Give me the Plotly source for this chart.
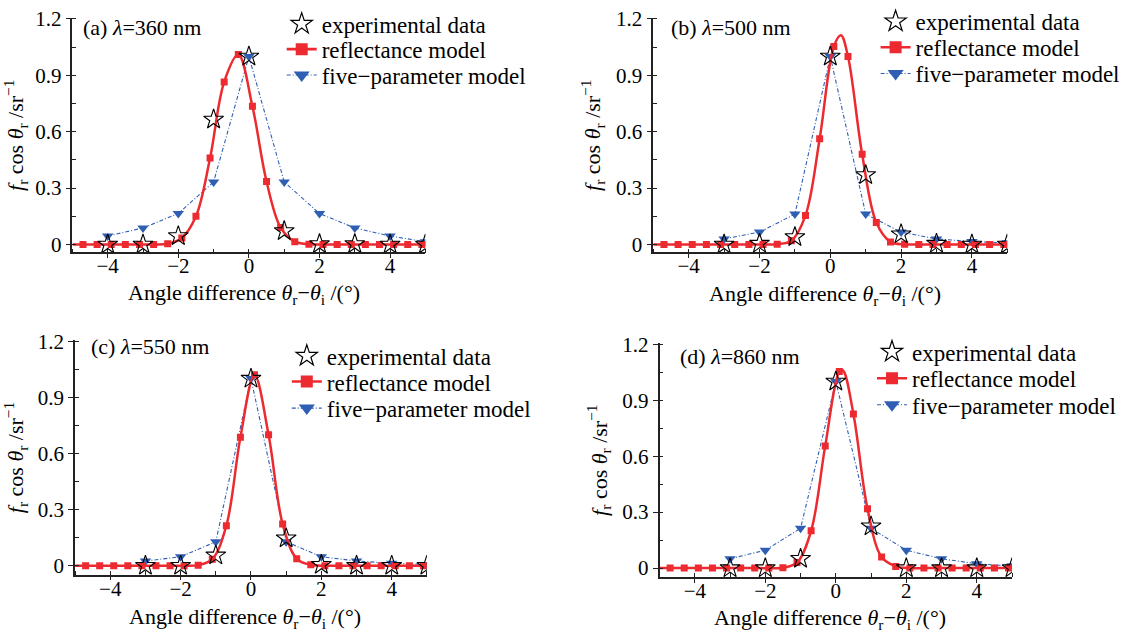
import plotly.graph_objects as go

W, H = 1129, 634

# ---------------- data ----------------
grid_x = [-4.7, -4.3, -3.9, -3.5, -3.1, -2.7, -2.3, -1.9, -1.5, -1.1, -0.7, -0.3,
          0.1, 0.5, 0.9, 1.3, 1.7, 2.1, 2.5, 2.9, 3.3, 3.7, 4.1, 4.5, 4.9]

refl_a = [0, 0, 0, 0, 0, 0, 0.004, 0.035, 0.15, 0.46, 0.865, 1.01,
          0.735, 0.335, 0.09, 0.015, 0.002, 0, 0, 0, 0, 0, 0, 0, 0]
refl_b = [0, 0, 0, 0, 0, 0, 0, 0, 0.002, 0.02, 0.155, 0.563,
          1.053, 1.0, 0.48, 0.117, 0.014, 0.001, 0, 0, 0, 0, 0, 0, 0]
refl_c = [0, 0, 0, 0, 0, 0, 0, 0, 0.003, 0.035, 0.214, 0.687,
          1.02, 0.70, 0.223, 0.037, 0.005, 0, 0, 0, 0, 0, 0, 0, 0]
refl_d = [0, 0, 0, 0, 0, 0, 0, 0, 0.002, 0.03, 0.2, 0.655,
          1.053, 0.826, 0.318, 0.059, 0.009, 0, 0, 0, 0, 0, 0, 0, 0]

# extra points on the drawn curve (ends of the axis and the peak)
extra_x_a = [-5.0, 5.0]
extra_y_a = [0.0, 0.0]
extra_x_b = [-5.0, 0.3, 5.0]
extra_y_b = [0.0, 1.113, 0.0]
extra_x_c = [-5.0, 5.0]
extra_y_c = [0.0, 0.0]
extra_x_d = [-5.0, 0.2, 5.0]
extra_y_d = [0.0, 1.06, 0.0]

exp_x_a = [-4, -3, -2, -1, 0, 1, 2, 3, 4, 5]
exp_y_a = [0.0, 0.0, 0.045, 0.665, 1.0, 0.072, 0.003, 0.003, 0.0, 0.0]
exp_x_bcd = [-3, -2, -1, 0, 1, 2, 3, 4, 5]
exp_y_b = [0.0, 0.005, 0.04, 1.0, 0.37, 0.055, 0.005, 0.0, 0.0]
exp_y_c = [0.0, 0.0, 0.055, 1.0, 0.147, 0.005, 0.0, 0.0, 0.0]
exp_y_d = [0.0, 0.0, 0.05, 1.0, 0.224, 0.0, 0.0, 0.0, 0.0]

five_y_a = [0.045, 0.088, 0.165, 0.333, 1.0, 0.333, 0.165, 0.088, 0.045, 0.015]
five_y_b = [0.03, 0.066, 0.162, 1.0, 0.162, 0.066, 0.03, 0.016, 0.009]
five_y_c = [0.025, 0.048, 0.128, 1.0, 0.128, 0.048, 0.025, 0.013, 0.007]
five_y_d = [0.05, 0.096, 0.213, 1.0, 0.213, 0.096, 0.05, 0.023, 0.012]

panel_labels = ["(a) <i>λ</i>=360 nm", "(b) <i>λ</i>=500 nm",
                "(c) <i>λ</i>=550 nm", "(d) <i>λ</i>=860 nm"]
legend_names = ["experimental data", "reflectance model", "five\u2212parameter model"]
x_title = "Angle difference <i>θ</i><sub>r</sub>\u2212<i>θ</i><sub>i</sub> /(°)"
y_title = "<i>f</i><sub>r</sub> cos <i>θ</i><sub>r</sub> /sr<sup>\u22121</sup>"
x_ticks = [-4, -2, 0, 2, 4]
y_ticks = [0, 0.3, 0.6, 0.9, 1.2]
y_ticktext = ["0", "0.3", "0.6", "0.9", "1.2"]

# ---------------- styling / geometry ----------------
FONT = "Liberation Serif"
RED = "#ec2a2f"
BLUE = "#2f5fb3"
AX = "#222222"

panels = [
    dict(refl=refl_a, ex=extra_x_a, ey=extra_y_a, expx=exp_x_a, expy=exp_y_a, fy=five_y_a,
         xd=(72.4, 425.4), yd=(250.0, 14.05), yr=(-0.042, 1.205),
         lab=(81.0, 23.5), legx=321.7, legy=(20.0, 45.5, 71.5), xt=(244.0, 292.0)),
    dict(refl=refl_b, ex=extra_x_b, ey=extra_y_b, expx=exp_x_bcd, expy=exp_y_b, fy=five_y_b,
         xd=(653.3, 1007.3), yd=(250.0, 14.05), yr=(-0.042, 1.205),
         lab=(669.0, 23.5), legx=915.6, legy=(17.5, 43.5, 70.0), xt=(825.0, 292.5)),
    dict(refl=refl_c, ex=extra_x_c, ey=extra_y_c, expx=exp_x_bcd, expy=exp_y_c, fy=five_y_c,
         xd=(75.05, 426.9), yd=(574.3, 338.4), yr=(-0.048, 1.205),
         lab=(89.0, 345.0), legx=326.8, legy=(354.2, 380.0, 406.7), xt=(245.0, 618.0)),
    dict(refl=refl_d, ex=extra_x_d, ey=extra_y_d, expx=exp_x_bcd, expy=exp_y_d, fy=five_y_d,
         xd=(659.55, 1012.05), yd=(576.7, 341.4), yr=(-0.048, 1.205),
         lab=(677.5, 355.0), legx=912.0, legy=(350.0, 376.7, 403.3), xt=(830.0, 619.0)),
]

fig = go.Figure()
layout = dict(
    template="none",
    width=W, height=H, autosize=False,
    margin=dict(l=0, r=0, t=0, b=0, pad=0),
    paper_bgcolor="white", plot_bgcolor="white",
    font=dict(family=FONT, size=21, color="black"),
    annotations=[],
)

leg_count = 0


def next_legend():
    global leg_count
    leg_count += 1
    return "legend" if leg_count == 1 else "legend%d" % leg_count


for i, p in enumerate(panels):
    n = "" if i == 0 else str(i + 1)
    xa, ya = "x" + n, "y" + n

    # line through marker points + extra curve points
    pts = sorted(list(zip(grid_x, p["refl"])) + list(zip(p["ex"], p["ey"])))
    lx = [a for a, _ in pts]
    ly = [b for _, b in pts]

    # five-parameter model
    fig.add_trace(go.Scatter(
        x=p["expx"], y=p["fy"], mode="lines+markers", showlegend=False,
        line=dict(color=BLUE, width=1.1, dash="4px,2px,1px,2px"),
        marker=dict(symbol="triangle-down", size=10, color=BLUE),
        xaxis=xa, yaxis=ya))
    # reflectance model curve and markers
    fig.add_trace(go.Scatter(
        x=lx, y=ly, mode="lines", showlegend=False,
        line=dict(color=RED, width=2.5, shape="spline", smoothing=1.0),
        xaxis=xa, yaxis=ya, hoverinfo="skip"))
    fig.add_trace(go.Scatter(
        x=grid_x, y=p["refl"], mode="markers", showlegend=False,
        marker=dict(symbol="square", size=7, color=RED),
        xaxis=xa, yaxis=ya))
    # experimental data
    fig.add_trace(go.Scatter(
        x=p["expx"], y=p["expy"], mode="markers", showlegend=False,
        marker=dict(symbol="star-open", size=15, color="black",
                    line=dict(width=1.1, color="black")),
        xaxis=xa, yaxis=ya))

    # legend entries (one legend per row so rows can be placed exactly)
    legend_specs = [
        dict(mode="markers", marker=dict(symbol="star-open", size=19, color="black",
                                         line=dict(width=1.2, color="black"))),
        dict(mode="lines+markers", line=dict(color=RED, width=2.6),
             marker=dict(symbol="square", size=12, color=RED)),
        dict(mode="lines+markers", line=dict(color=BLUE, width=1.1, dash="4px,2px,1px,2px"),
             marker=dict(symbol="triangle-down", size=14, color=BLUE)),
    ]
    for k, spec in enumerate(legend_specs):
        lg = next_legend()
        fig.add_trace(go.Scatter(
            x=[None], y=[None], name=legend_names[k], xaxis=xa, yaxis=ya,
            legend=lg, showlegend=True, **spec))
        layout[lg] = dict(
            x=(p["legx"] - 40) / W, y=1 - p["legy"][k] / H,
            xanchor="left", yanchor="middle",
            bgcolor="rgba(0,0,0,0)", borderwidth=0,
            font=dict(family=FONT, size=23, color="black"),
            itemsizing="trace", itemwidth=30,
        )

    x0, x1 = p["xd"]
    yb, yt = p["yd"]
    layout["xaxis" + n] = dict(
        domain=[x0 / W, x1 / W], anchor=ya, range=[-5, 5], automargin=False,
        tickvals=x_ticks, ticks="outside", ticklen=4, tickwidth=1.2, tickcolor=AX,
        ticklabelstandoff=-10,
        minor=dict(dtick=1, tick0=0, ticks="inside", ticklen=4, tickwidth=1.1, tickcolor=AX),
        showline=True, linecolor=AX, linewidth=1.6, showgrid=False, zeroline=False,
        tickfont=dict(family=FONT, size=21, color="black"),
    )
    layout["yaxis" + n] = dict(
        domain=[1 - yb / H, 1 - yt / H], anchor=xa, range=list(p["yr"]), automargin=False,
        tickvals=y_ticks, ticktext=y_ticktext,
        ticks="outside", ticklen=5, tickwidth=1.2, tickcolor=AX,
        minor=dict(dtick=0.15, tick0=0, ticks="inside", ticklen=4, tickwidth=1.1, tickcolor=AX),
        showline=True, linecolor=AX, linewidth=1.6, showgrid=False, zeroline=False,
        tickfont=dict(family=FONT, size=21, color="black"),
        title=dict(text=y_title, font=dict(family=FONT, size=22, color="black"), standoff=9),
    )
    lbx, lby = p["lab"]
    layout["annotations"].append(dict(
        text=panel_labels[i], xref="paper", yref="paper",
        x=lbx / W, y=1 - lby / H, xanchor="left", yanchor="middle",
        showarrow=False, font=dict(family=FONT, size=22, color="black")))
    txc, tyc = p["xt"]
    layout["annotations"].append(dict(
        text=x_title, xref="paper", yref="paper",
        x=txc / W, y=1 - tyc / H, xanchor="center", yanchor="middle",
        showarrow=False, font=dict(family=FONT, size=22, color="black")))

fig.update_layout(**layout)
fig.write_html("out.html", config={"displayModeBar": False},
               post_script="document.body.style.margin='0';document.body.style.overflow='hidden';")
